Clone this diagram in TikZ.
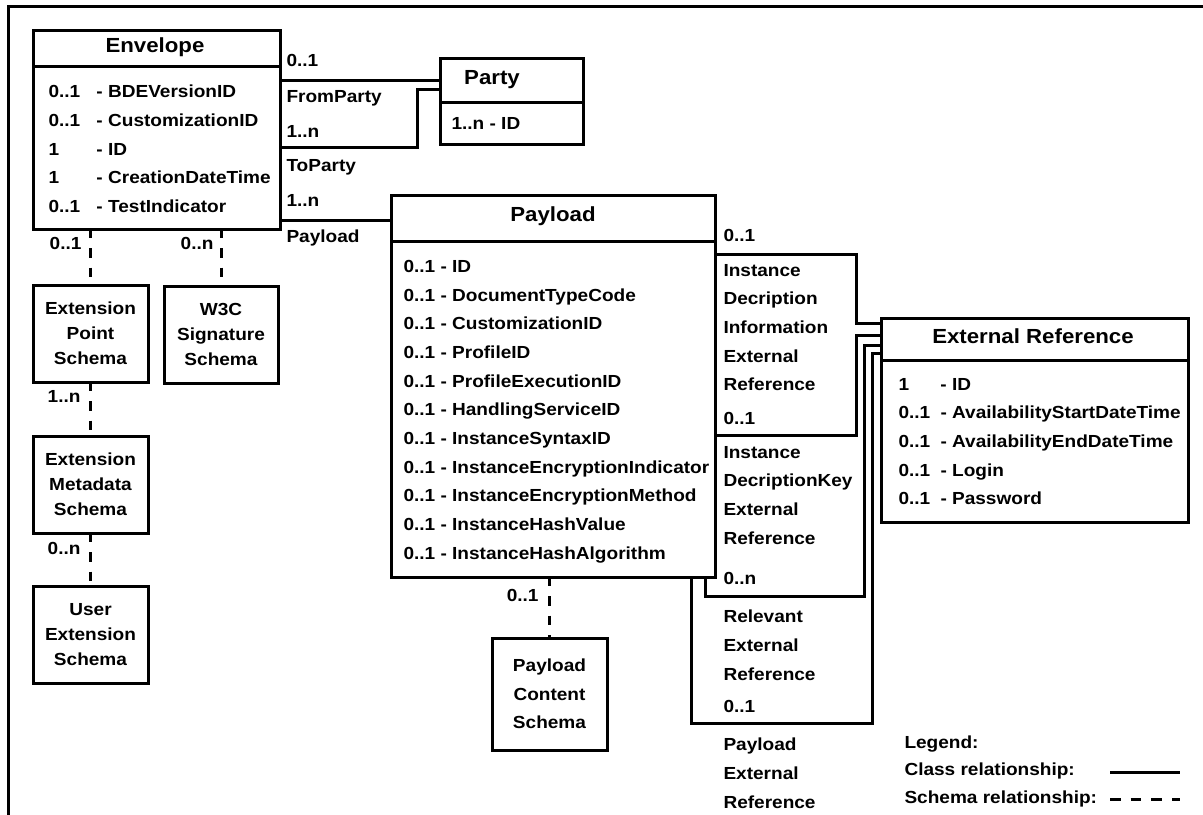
\documentclass[tikz,border=0pt]{standalone}
\usepackage{fontspec}
\setmainfont{Liberation Sans}[FakeStretch=1.09]
\newcommand{\itemfont}{\bfseries\fontsize{13.1}{21.5}\selectfont}
\newcommand{\schfont}{\bfseries\fontsize{13.1}{18.75}\selectfont}
\newcommand{\pcsfont}{\bfseries\fontsize{13.1}{21.4}\selectfont}
\newcommand{\titlefont}{\bfseries\fontsize{15.3}{18}\selectfont}
\begin{document}
\begin{tikzpicture}[x=0.75pt,y=-0.75pt,
  line width=2.25pt,
  box/.style={draw, line width=2.25pt, inner sep=0pt, outer sep=0pt},
  sz/.style 2 args={minimum width=#1*0.75pt, minimum height=#2*0.75pt},
  cls/.style={line width=2.25pt},
  sch/.style={line width=2.25pt, dash pattern=on 7pt off 7.5pt},
  ttl/.style={font=\titlefont, inner sep=0pt, text height=0.716em, text depth=0pt},
  lbl/.style={font=\itemfont, inner sep=0pt, anchor=west, text height=0.716em, text depth=0pt},
  rlbl/.style={font=\itemfont, inner sep=0pt, anchor=east, text height=0.716em, text depth=0pt},
  items/.style={font=\itemfont, align=left, inner sep=0pt, anchor=north west},
  schbox/.style={box, sz={115}{97}, font=\schfont, align=center}
]
\useasboundingbox (0,0) rectangle (1203,814);
\fill[white] (0,0) rectangle (1203,814);

% outer frame
\coordinate (ftl) at (8.5,6.5);
\coordinate (ftr) at (1210,6.5);
\coordinate (fbl) at (8.5,820);
\draw[cls] (ftr) -- (ftl) -- (fbl);

% Envelope
\node[box, sz={247}{199}] (env) at (156.5,129.5) {};
\draw[cls] (env.west |- 0,66) -- (env.east |- 0,66);
\node[ttl] (envT) at (155,48) {Envelope};
\node[items] (envI) at (47,83.75) {\makebox[36pt][l]{0..1}- BDEVersionID\\
\makebox[36pt][l]{0..1}- CustomizationID\\
\makebox[36pt][l]{1}- ID\\
\makebox[36pt][l]{1}- CreationDateTime\\
\makebox[36pt][l]{0..1}- TestIndicator};

% Party
\node[box, sz={143}{86}] (party) at (511.5,101) {};
\draw[cls] (party.west |- 0,102) -- (party.east |- 0,102);
\node[ttl] (partyT) at (492,80) {Party};
\node[lbl] (partyI) at (450,125) {1..n - ID};

% Payload
\node[box, sz={324}{382}] (payload) at (553,386) {};
\draw[cls] (payload.west |- 0,241) -- (payload.east |- 0,241);
\node[ttl] (payloadT) at (553,217) {Payload};
\node[items] (payloadI) at (402,258.75) {0..1 - ID\\
0..1 - DocumentTypeCode\\
0..1 - CustomizationID\\
0..1 - ProfileID\\
0..1 - ProfileExecutionID\\
0..1 - HandlingServiceID\\
0..1 - InstanceSyntaxID\\
0..1 - InstanceEncryptionIndicator\\
0..1 - InstanceEncryptionMethod\\
0..1 - InstanceHashValue\\
0..1 - InstanceHashAlgorithm};

% External Reference
\node[box, sz={307}{204}] (extref) at (1034.5,420) {};
\draw[cls] (extref.west |- 0,360) -- (extref.east |- 0,360);
\node[ttl] (extrefT) at (1033,339) {External Reference};
\node[items] (extrefI) at (897,376.75) {\makebox[31.5pt][l]{1}- ID\\
\makebox[31.5pt][l]{0..1}- AvailabilityStartDateTime\\
\makebox[31.5pt][l]{0..1}- AvailabilityEndDateTime\\
\makebox[31.5pt][l]{0..1}- Login\\
\makebox[31.5pt][l]{0..1}- Password};

% Schema boxes
\node[schbox] (eps) at (90.5,333.5) {Extension\\Point\\Schema};
\node[schbox, sz={114}{97}] (w3c) at (221,334.5) {W3C\\Signature\\Schema};
\node[schbox] (ems) at (90.5,484.5) {Extension\\Metadata\\Schema};
\node[schbox] (ues) at (90.5,634.5) {User\\Extension\\Schema};
\node[box, sz={115}{112}, font=\pcsfont, align=center] (pcs) at (549.5,694) {Payload\\Content\\Schema};

% Schema relationships
\draw[sch] (eps.north |- env.south) -- (eps.north);
\draw[sch] (w3c.north |- env.south) -- (w3c.north);
\draw[sch] (eps.south) -- (ems.north);
\draw[sch] (ems.south) -- (ues.north);
\draw[sch] (pcs.north |- payload.south) -- (pcs.north);
\node[rlbl] (m1) at (83,245) {0..1};
\node[rlbl] (m2) at (215,245) {0..n};
\node[rlbl] (m3) at (82,398) {1..n};
\node[rlbl] (m4) at (82,550) {0..n};
\node[rlbl] (m5) at (540,597) {0..1};

% Class relationships: Envelope
\draw[cls] (env.east |- 0,80) -- (party.west |- 0,80);
\draw[cls] (env.east |- 0,147) -- (417,147) -- (417,89) -- (party.west |- 0,89);
\draw[cls] (env.east |- 0,220) -- (payload.west |- 0,220);
\node[lbl] (l1) at (285,62) {0..1};
\node[lbl] (l2) at (285,98) {FromParty};
\node[lbl] (l3) at (285,133) {1..n};
\node[lbl] (l4) at (285,167) {ToParty};
\node[lbl] (l5) at (285,202) {1..n};
\node[lbl] (l6) at (285,238) {Payload};

% Class relationships: Payload -> External Reference
\draw[cls] (payload.east |- 0,254) -- (856,254) -- (856,323) -- (extref.west |- 0,323);
\draw[cls] (payload.east |- 0,435) -- (856,435) -- (856,335) -- (extref.west |- 0,335);
\draw[cls] (payload.south -| 705,0) -- (705,596) -- (864,596) -- (864,345) -- (extref.west |- 0,345);
\draw[cls] (payload.south -| 691,0) -- (691,723) -- (872,723) -- (872,353) -- (extref.west |- 0,353);

\node[lbl] (r1) at (722,237) {0..1};
\node[items] (r2) at (722,262.75) {Instance\\Decription\\Information\\External\\Reference};
\node[lbl] (r3) at (722,420) {0..1};
\node[items] (r4) at (722,444.75) {Instance\\DecriptionKey\\External\\Reference};
\node[lbl] (r5) at (722,580) {0..n};
\node[items] (r6) at (722,608.75) {Relevant\\External\\Reference};
\node[lbl] (r7) at (722,708) {0..1};
\node[items] (r8) at (722,736.75) {Payload\\External\\Reference};

% Legend
\node[lbl] (lg1) at (903,744) {Legend:};
\node[lbl] (lg2) at (903,771) {Class relationship:};
\node[lbl] (lg3) at (903,799) {Schema relationship:};
\coordinate (lga) at (1110,772);
\coordinate (lgb) at (1180,772);
\coordinate (lgc) at (1110,799);
\coordinate (lgd) at (1180,799);
\draw[cls] (lga) -- (lgb);
\draw[line width=2.25pt, dash pattern=on 8pt off 7.5pt] (lgc) -- (lgd);
\end{tikzpicture}
\end{document}
